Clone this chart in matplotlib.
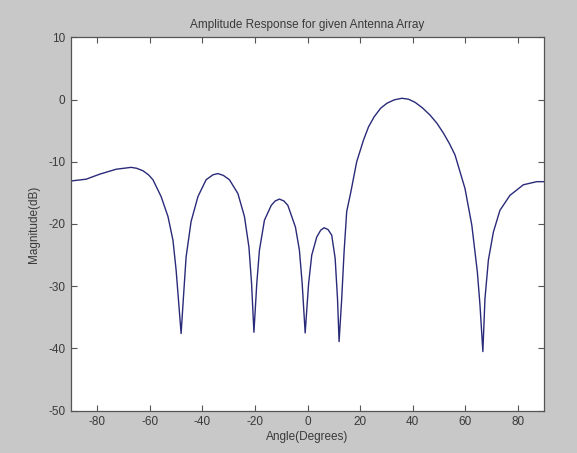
import matplotlib
matplotlib.use("Agg")
import matplotlib.pyplot as plt

# Angle (degrees) and magnitude (dB)
angle_deg = [-90.0, -89.2, -84.2, -79.1, -72.8, -67.1, -65.0, -62.6, -60.5, -58.8,
             -55.7, -53.1, -51.2, -50.0, -48.9, -48.1, -47.2, -46.2, -44.3, -41.7,
             -38.6, -36.0, -34.1, -32.0, -29.7, -26.5, -24.0, -22.3, -21.3, -20.4,
             -19.3, -18.3, -16.4, -13.8, -12.3, -10.7, -9.0, -7.5, -4.6, -3.1,
             -2.05, -0.9, 0.4, 1.6, 3.5, 5.0, 6.3, 7.8, 9.2, 10.5,
             11.4, 12.0, 13.0, 13.9, 14.9, 16.5, 18.7, 21.3, 23.2, 25.3,
             27.8, 30.2, 33.0, 35.9, 38.4, 40.9, 43.6, 46.6, 49.2, 51.7,
             54.0, 56.1, 59.9, 62.5, 64.6, 65.6, 66.7, 67.5, 68.8, 70.7,
             73.2, 77.0, 82.1, 87.2, 90.0]
magnitude_db = [-13.1, -13.05, -12.8, -12.0, -11.2, -10.9, -11.05, -11.45, -12.1, -12.9,
                -15.6, -18.8, -22.6, -27.4, -33.3, -37.6, -31.7, -25.3, -19.6, -15.6,
                -12.9, -12.1, -11.9, -12.2, -12.9, -15.1, -18.8, -23.7, -29.5, -37.4,
                -29.5, -24.2, -19.4, -17.0, -16.3, -16.0, -16.3, -17.0, -20.5, -24.2,
                -29.5, -37.5, -29.6, -25.0, -22.1, -21.0, -20.6, -20.9, -21.8, -25.5,
                -32.0, -38.9, -32.0, -24.5, -18.0, -14.8, -10.0, -6.5, -4.4, -2.8,
                -1.4, -0.6, -0.05, 0.2, 0.05, -0.45, -1.3, -2.5, -3.8, -5.4,
                -7.1, -8.9, -14.3, -20.2, -27.7, -33.0, -40.5, -32.0, -25.8, -21.3,
                -17.8, -15.4, -13.7, -13.2, -13.2]

x_ticks = [-80, -60, -40, -20, 0, 20, 40, 60, 80]
y_ticks = [-50, -40, -30, -20, -10, 0, 10]

title_text = "Amplitude Response for given Antenna Array"
x_label = "Angle(Degrees)"
y_label = "Magnitude(dB)"

plt.rcParams['font.family'] = ['Liberation Sans', 'DejaVu Sans']
plt.rcParams['axes.unicode_minus'] = False
txt_color = '#3a3a3a'

fig = plt.figure(figsize=(5.77, 4.53), dpi=100, facecolor='#c8c8c8')
ax = fig.add_axes([0.123, 0.0934, 0.82, 0.8243])
ax.set_facecolor('white')
ax.plot(angle_deg, magnitude_db, color='#2a2a7a', linewidth=1.0)

ax.set_xlim(-90, 90)
ax.set_ylim(-50, 10)
ax.set_xticks(x_ticks)
ax.set_yticks(y_ticks)
ax.tick_params(direction='in', length=4, width=0.8, top=True, right=True,
               labelsize=8.5, colors='#555555', labelcolor=txt_color, pad=4)
for s in ax.spines.values():
    s.set_color('#555555')
    s.set_linewidth(0.9)

ax.set_title(title_text, fontsize=8.5, color=txt_color, pad=7)
ax.set_xlabel(x_label, fontsize=8.5, color=txt_color, labelpad=2)
ax.set_ylabel(y_label, fontsize=8.5, color=txt_color, labelpad=6)

fig.savefig("out.png", dpi=100, facecolor=fig.get_facecolor())
